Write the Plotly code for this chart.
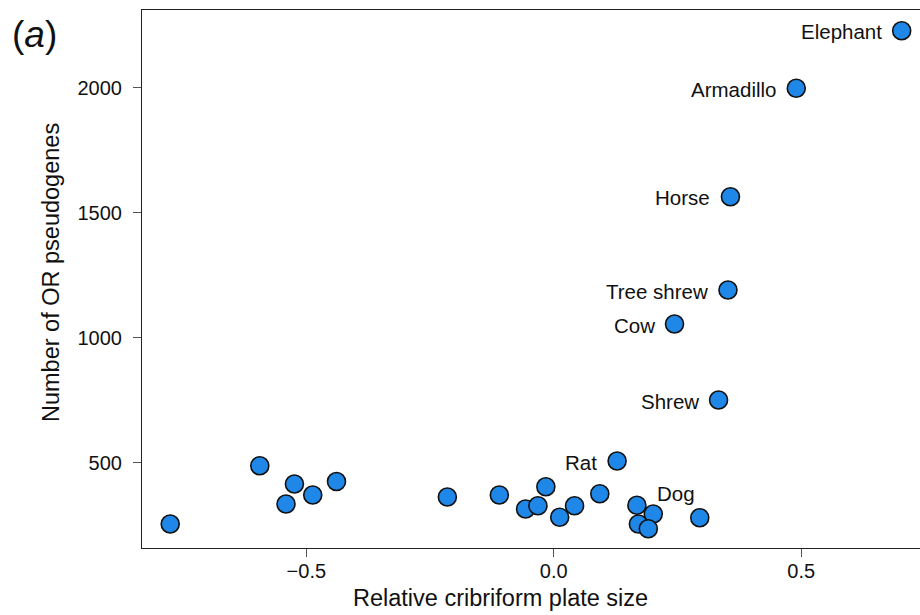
import plotly.graph_objects as go

# Data
species = ["", "", "", "", "", "", "", "", "", "", "", "", "", "", "Rat", "", "Dog", "", "", "",
           "Shrew", "Cow", "Tree shrew", "Horse", "Armadillo", "Elephant"]
x_vals = [-0.775, -0.594, -0.524, -0.541, -0.487, -0.439, -0.215, -0.110, -0.016, -0.057,
          -0.032, 0.012, 0.042, 0.093, 0.128, 0.168, 0.201, 0.171, 0.191, 0.295,
          0.333, 0.244, 0.352, 0.357, 0.490, 0.703]
y_vals = [255, 488, 415, 335, 371, 425, 363, 371, 404, 315,
          328, 282, 328, 376, 507, 330, 295, 255, 236, 280,
          751, 1055, 1191, 1564, 1998, 2228]

x_ticks = [-0.5, 0.0, 0.5]
x_ticklabels = ["\u22120.5", "0.0", "0.5"]
y_ticks = [500, 1000, 1500, 2000]

FONT = "Liberation Sans, Arial, Helvetica, sans-serif"

fig = go.Figure()
fig.add_trace(go.Scatter(
    x=x_vals, y=y_vals, mode="markers",
    marker=dict(size=18, color="#1f87e8", line=dict(color="#111111", width=1.6)),
    hoverinfo="x+y", showlegend=False,
))

L, R, T, B, W, H = 142, 0, 10, 67, 920, 615
pw, ph = W - L - R, H - T - B


def px_x(p):
    return (p - L) / pw


def px_y(p):
    return (H - B - p) / ph


annotations = []
for xv, yv, name in zip(x_vals, y_vals, species):
    if not name:
        continue
    if name == "Dog":
        annotations.append(dict(x=xv, y=yv, xref="x", yref="y", text=name, showarrow=False,
                                xanchor="left", yanchor="middle", xshift=2, yshift=21,
                                font=dict(size=20.5, color="#111111", family=FONT)))
    else:
        annotations.append(dict(x=xv, y=yv, xref="x", yref="y", text=name, showarrow=False,
                                xanchor="right", yanchor="middle", xshift=-18, yshift=-1,
                                font=dict(size=20.5, color="#111111", family=FONT)))

annotations.append(dict(x=px_x(10), y=px_y(35), xref="paper", yref="paper", text="(<i>a</i>)",
                        showarrow=False, xanchor="left", yanchor="middle",
                        font=dict(size=37, color="#111111", family=FONT)))
annotations.append(dict(x=px_x(500), y=px_y(598), xref="paper", yref="paper",
                        text="Relative cribriform plate size",
                        showarrow=False, xanchor="center", yanchor="middle",
                        font=dict(size=23.5, color="#111111", family=FONT)))
annotations.append(dict(x=px_x(51), y=px_y(273), xref="paper", yref="paper",
                        text="Number of OR pseudogenes", textangle=-90,
                        showarrow=False, xanchor="center", yanchor="middle",
                        font=dict(size=23.5, color="#111111", family=FONT)))

fig.update_layout(
    width=W, height=H,
    margin=dict(l=L, r=R, t=T, b=B),
    paper_bgcolor="white", plot_bgcolor="white",
    font=dict(family=FONT, color="#111111"),
    annotations=annotations,
)

fig.update_xaxes(
    range=[-0.832, 0.74], showgrid=False, zeroline=False,
    showline=True, linecolor="#222222", linewidth=1.2, mirror=True,
    ticks="outside", ticklen=8, tickcolor="#555555", tickwidth=1,
    tickvals=x_ticks, ticktext=x_ticklabels,
    tickfont=dict(size=20, color="#111111"), ticklabelstandoff=-3,
)
fig.update_yaxes(
    range=[159, 2311], showgrid=False, zeroline=False,
    showline=True, linecolor="#222222", linewidth=1.2, mirror=False,
    ticks="outside", ticklen=8, tickcolor="#555555", tickwidth=1,
    tickvals=y_ticks,
    tickfont=dict(size=20, color="#111111"), ticklabelstandoff=7,
)

fig.write_html("out.html")
